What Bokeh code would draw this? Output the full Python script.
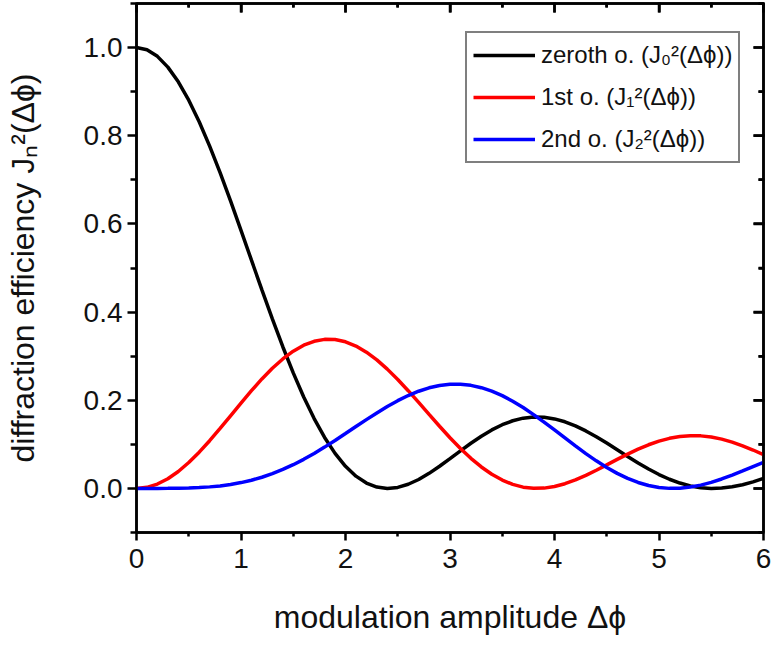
import math
from bokeh.plotting import figure
from bokeh.models import LinearAxis, FixedTicker, PrintfTickFormatter, Range1d, CustomLabelingPolicy
from bokeh.embed import file_html
from bokeh.resources import INLINE

# modulation amplitude (rad)
dphi = [0.0, 0.1, 0.2, 0.3, 0.4, 0.5, 0.6, 0.7, 0.8, 0.9,
        1.0, 1.1, 1.2, 1.3, 1.4, 1.5, 1.6, 1.7, 1.8, 1.9,
        2.0, 2.1, 2.2, 2.3, 2.4, 2.5, 2.6, 2.7, 2.8, 2.9,
        3.0, 3.1, 3.2, 3.3, 3.4, 3.5, 3.6, 3.7, 3.8, 3.9,
        4.0, 4.1, 4.2, 4.3, 4.4, 4.5, 4.6, 4.7, 4.8, 4.9,
        5.0, 5.1, 5.2, 5.3, 5.4, 5.5, 5.6, 5.7, 5.8, 5.9, 6.0]
# zeroth order efficiency
zeroth = [1.0000, 0.9950, 0.9801, 0.9557, 0.9224, 0.8807, 0.8317, 0.7765, 0.7162, 0.6521,
          0.5855, 0.5178, 0.4504, 0.3845, 0.3214, 0.2620, 0.2074, 0.1584, 0.1156, 0.0794,
          0.0501, 0.0278, 0.0122, 0.0031, 0.0000, 0.0023, 0.0094, 0.0203, 0.0342, 0.0503,
          0.0677, 0.0853, 0.1025, 0.1185, 0.1327, 0.1445, 0.1535, 0.1594, 0.1621, 0.1615,
          0.1577, 0.1511, 0.1418, 0.1304, 0.1172, 0.1028, 0.0877, 0.0725, 0.0578, 0.0440,
          0.0315, 0.0208, 0.0122, 0.0057, 0.0017, 0.0000, 0.0007, 0.0036, 0.0084, 0.0149, 0.0227]
# first order efficiency
first = [0.0000, 0.0025, 0.0099, 0.0220, 0.0384, 0.0587, 0.0822, 0.1082, 0.1360, 0.1648,
         0.1937, 0.2218, 0.2483, 0.2725, 0.2937, 0.3113, 0.3248, 0.3338, 0.3381, 0.3377,
         0.3326, 0.3230, 0.3091, 0.2915, 0.2706, 0.2471, 0.2217, 0.1950, 0.1679, 0.1410,
         0.1150, 0.0906, 0.0683, 0.0487, 0.0321, 0.0189, 0.0091, 0.0029, 0.0002, 0.0007,
         0.0044, 0.0107, 0.0192, 0.0295, 0.0411, 0.0534, 0.0658, 0.0779, 0.0891, 0.0990,
         0.1073, 0.1136, 0.1178, 0.1197, 0.1192, 0.1166, 0.1118, 0.1051, 0.0967, 0.0871, 0.0766]
# second order efficiency
second = [0.0000, 0.0000, 0.0000, 0.0001, 0.0004, 0.0009, 0.0019, 0.0035, 0.0057, 0.0090,
          0.0132, 0.0186, 0.0254, 0.0335, 0.0430, 0.0538, 0.0660, 0.0794, 0.0937, 0.1088,
          0.1245, 0.1403, 0.1561, 0.1713, 0.1858, 0.1990, 0.2107, 0.2205, 0.2282, 0.2335,
          0.2363, 0.2364, 0.2338, 0.2285, 0.2206, 0.2104, 0.1978, 0.1835, 0.1675, 0.1504,
          0.1326, 0.1145, 0.0964, 0.0790, 0.0626, 0.0475, 0.0341, 0.0227, 0.0135, 0.0066,
          0.0022, 0.0001, 0.0005, 0.0030, 0.0075, 0.0138, 0.0214, 0.0302, 0.0396, 0.0493, 0.0590]

x_ticks = [0, 1, 2, 3, 4, 5, 6]
x_minor = [0.5, 1.5, 2.5, 3.5, 4.5, 5.5]
y_ticks = [0.0, 0.2, 0.4, 0.6, 0.8, 1.0]
y_minor = [-0.1, 0.1, 0.3, 0.5, 0.7, 0.9, 1.1]
x_lo, x_hi = 0, 6
y_lo, y_hi = -0.1, 1.1

labels = ["zeroth o. (J\u2080\u00b2(\u0394\u03d5))",
          "1st o. (J\u2081\u00b2(\u0394\u03d5))",
          "2nd o. (J\u2082\u00b2(\u0394\u03d5))"]

FONT = "Liberation Sans"
TXT = "#111111"

p = figure(width=774, height=646, output_backend="svg", toolbar_location=None,
           x_range=Range1d(x_lo, x_hi), y_range=Range1d(y_lo, y_hi),
           min_border_left=136, min_border_right=11, min_border_top=3, min_border_bottom=114)
p.grid.visible = False
p.outline_line_color = "black"
p.outline_line_width = 2.5
p.background_fill_color = "white"
p.border_fill_color = "white"

p.line(dphi, zeroth, line_color="black", line_width=3.5, legend_label=labels[0])
p.line(dphi, first, line_color="#ff0000", line_width=3.5, legend_label=labels[1])
p.line(dphi, second, line_color="#0000ff", line_width=3.5, legend_label=labels[2])

# inward ticks along the top and right frame edges (screen-length rays from the edge)
p.ray(x=x_ticks, y=[y_hi] * len(x_ticks), length=9, length_units="screen",
      angle=-math.pi / 2, line_color="black", line_width=2.5)
p.ray(x=x_minor, y=[y_hi] * len(x_minor), length=4, length_units="screen",
      angle=-math.pi / 2, line_color="black", line_width=2.5)
p.ray(x=[x_hi] * len(y_ticks), y=y_ticks, length=10, length_units="screen",
      angle=math.pi, line_color="black", line_width=2.5)
p.ray(x=[x_hi] * len(y_minor), y=y_minor, length=5, length_units="screen",
      angle=math.pi, line_color="black", line_width=2.5)

xt = FixedTicker(ticks=x_ticks, minor_ticks=x_minor)
yt = FixedTicker(ticks=y_ticks, minor_ticks=y_minor)

def style(ax):
    ax.axis_line_width = 2.5
    ax.axis_line_color = "black"
    ax.major_tick_line_color = "black"
    ax.minor_tick_line_color = "black"
    ax.major_tick_line_width = 2.5
    ax.minor_tick_line_width = 2.5
    ax.major_label_text_font = FONT
    ax.axis_label_text_font = FONT
    ax.axis_label_text_font_style = "normal"
    ax.major_label_text_color = TXT
    ax.axis_label_text_color = TXT

xa = p.xaxis[0]
xa.ticker = xt
style(xa)
xa.major_tick_in = 0
xa.major_tick_out = 8
xa.minor_tick_in = 0
xa.minor_tick_out = 4
xa.major_label_text_font_size = "28px"
xa.major_label_standoff = 8
xa.axis_label = "modulation amplitude \u0394\u03d5"
xa.axis_label_text_font_size = "32px"
xa.axis_label_standoff = 28

ya = p.yaxis[0]
ya.ticker = yt
ya.formatter = PrintfTickFormatter(format="%.1f")
style(ya)
ya.major_tick_in = 0
ya.major_tick_out = 9
ya.minor_tick_in = 0
ya.minor_tick_out = 6
ya.major_label_text_font_size = "28px"
ya.major_label_standoff = 5
ya.axis_label = "diffraction efficiency J\u2099\u00b2(\u0394\u03d5)"
ya.axis_label_text_font_size = "32px"
ya.axis_label_standoff = 40

# mirrored frame axes with inward ticks and no labels
no_labels = "for (const i of indices) { indices.unset(i) }\nreturn indices"

top = LinearAxis(ticker=xt, major_label_policy=CustomLabelingPolicy(code=no_labels))
style(top)
top.major_label_text_font_size = "0px"
top.major_tick_in = 9
top.major_tick_out = 1
top.minor_tick_in = 4
top.minor_tick_out = 1
p.add_layout(top, "above")

right = LinearAxis(ticker=yt, major_label_policy=CustomLabelingPolicy(code=no_labels))
style(right)
right.major_label_text_font_size = "0px"
right.major_tick_in = 10
right.major_tick_out = 1
right.minor_tick_in = 5
right.minor_tick_out = 1
p.add_layout(right, "right")

lg = p.legend[0]
lg.location = (329, 369)
lg.margin = 0
lg.padding = 6
lg.spacing = 10
lg.border_line_color = "black"
lg.border_line_width = 2
lg.background_fill_alpha = 1
lg.label_text_font = FONT
lg.label_text_font_size = "24px"
lg.label_text_color = TXT
lg.glyph_width = 62
lg.glyph_height = 32
lg.label_height = 32
lg.label_standoff = 6

open("out.html", "w").write(file_html(p, INLINE))
